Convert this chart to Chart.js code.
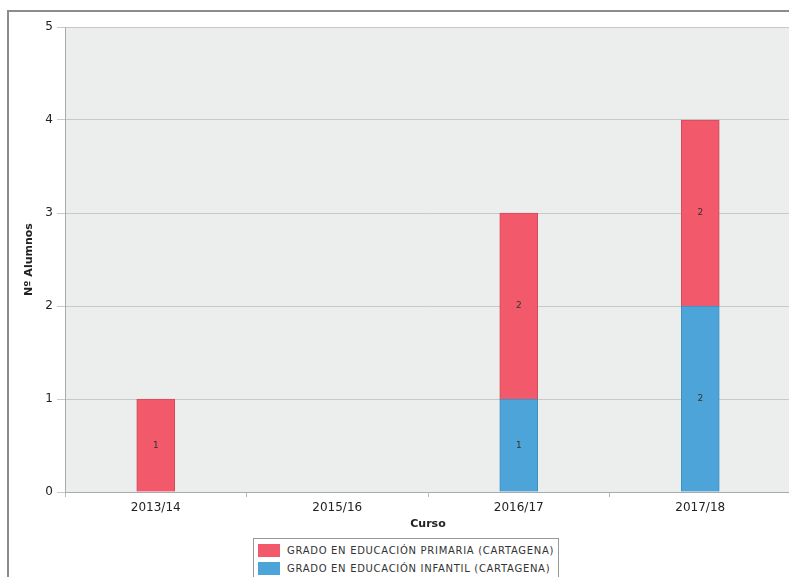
<!DOCTYPE html>
<html>
<head>
<meta charset="utf-8">
<script src="https://cdn.jsdelivr.net/npm/chart.js@4"></script>
<style>
  html, body { margin: 0; padding: 0; background: #fff; overflow: hidden; }
  #frame { position: absolute; left: 7px; top: 10px; width: 800px; height: 580px;
           border-left: 2px solid #8c8c8c; border-top: 2px solid #8c8c8c; }
  #wrap { position: absolute; left: 0; top: 0; width: 782px; height: 565px; }
  #legend { position: absolute; left: 244px; top: 526px; border: 1px solid #999; background: #fff;
            padding: 2px 4px 0 4px; font: 10px "DejaVu Sans", sans-serif; color: #333; letter-spacing: 0.7px; }
  #legend div { display: flex; align-items: center; height: 18px; }
  #legend span.sw { display: inline-block; width: 22px; height: 13px; margin-right: 7px; }
</style>
</head>
<body>
<div id="frame">
  <div id="wrap"><canvas id="chart"></canvas></div>
  <div id="legend"></div>
</div>
<script>
const cursos = ['2013/14', '2015/16', '2016/17', '2017/18'];
const primaria = [1, 0, 2, 2];
const infantil = [0, 0, 1, 2];
const yTicks = [0, 1, 2, 3, 4, 5];

const plotBg = {
  id: 'plotBg',
  beforeDraw(chart) {
    const { ctx, chartArea: a } = chart;
    ctx.save();
    ctx.fillStyle = '#ebeeed';
    ctx.fillRect(a.left, a.top, a.right - a.left, a.bottom - a.top);
    ctx.restore();
  }
};

const barValues = {
  id: 'barValues',
  afterDatasetsDraw(chart) {
    const ctx = chart.ctx;
    ctx.save();
    ctx.font = '9px "DejaVu Sans", sans-serif';
    ctx.fillStyle = '#333';
    ctx.textAlign = 'center';
    ctx.textBaseline = 'middle';
    chart.data.datasets.forEach((ds, i) => {
      chart.getDatasetMeta(i).data.forEach((bar, j) => {
        if (!ds.data[j]) return;
        ctx.fillText(ds.data[j], bar.x, (bar.y + bar.base) / 2);
      });
    });
    ctx.restore();
  }
};

const chart = new Chart(document.getElementById('chart'), {
  type: 'bar',
  data: {
    labels: cursos,
    datasets: [
      {
        label: 'GRADO EN EDUCACIÓN INFANTIL (CARTAGENA)',
        data: infantil,
        backgroundColor: '#4da4d8',
        borderColor: '#3d8fc2',
        borderWidth: 1,
        barThickness: 38
      },
      {
        label: 'GRADO EN EDUCACIÓN PRIMARIA (CARTAGENA)',
        data: primaria,
        backgroundColor: '#f2596b',
        borderColor: '#d44a5b',
        borderWidth: 1,
        barThickness: 38
      }
    ]
  },
  options: {
    responsive: true,
    maintainAspectRatio: false,
    animation: false,
    layout: { padding: { top: 15, right: 0, bottom: 46, left: 14 } },
    plugins: {
      legend: { display: false },
      tooltip: { enabled: false }
    },
    scales: {
      x: {
        stacked: true,
        afterFit(s) { s.height = 39; },
        grid: { drawOnChartArea: false, drawTicks: true, tickLength: 5, color: '#bbb' },
        border: { color: '#aaa' },
        ticks: { color: '#222', font: { family: 'DejaVu Sans', size: 12 }, padding: 4 },
        title: { display: true, text: 'Curso', color: '#222', padding: 0,
                 font: { family: 'DejaVu Sans', size: 11, weight: 'bold' } }
      },
      y: {
        stacked: true,
        min: 0,
        max: 5,
        afterFit(s) { s.width = 42; },
        afterBuildTicks(s) { s.ticks = yTicks.map(v => ({ value: v })); },
        grid: { color: '#c8c8c8', tickLength: 8 },
        border: { color: '#aaa' },
        ticks: { color: '#222', font: { family: 'DejaVu Sans', size: 12 }, padding: 4 },
        title: { display: true, text: 'Nº Alumnos', color: '#222', padding: 0,
                 font: { family: 'DejaVu Sans', size: 11, weight: 'bold' } }
      }
    }
  },
  plugins: [plotBg, barValues]
});

// legend: primaria first, then infantil, stacked vertically
const legend = document.getElementById('legend');
[1, 0].forEach(i => {
  const ds = chart.data.datasets[i];
  const row = document.createElement('div');
  row.innerHTML = '<span class="sw" style="background:' + ds.backgroundColor + '"></span>' + ds.label;
  legend.appendChild(row);
});
</script>
</body>
</html>
